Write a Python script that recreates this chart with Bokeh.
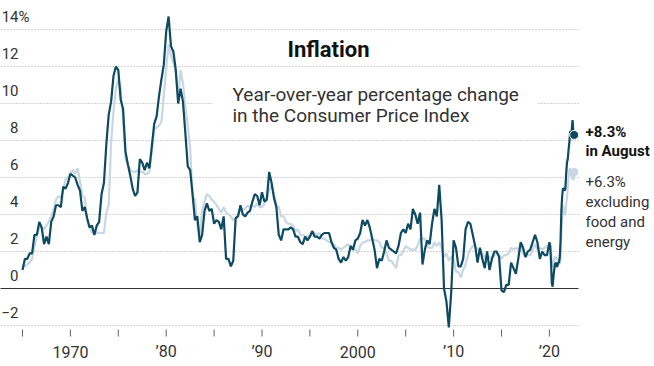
import pandas as pd
from bokeh.plotting import figure
from bokeh.models import Range1d
from bokeh.core.properties import value
from bokeh.embed import file_html
from bokeh.resources import INLINE

# Quarterly observations (Jan, Apr, Jul, Oct) 1965-2019, then monthly Jan 2020 - Aug 2022
quarter_starts = pd.date_range("1965-01-01", "2019-10-01", freq="QS")
month_starts = pd.date_range("2020-01-01", "2022-08-01", freq="MS")

cpi_all_q = [
    1.0, 1.6, 1.6, 1.9,   # 1965
    1.9, 2.9, 2.9, 3.6,   # 1966
    3.3, 2.4, 2.8, 2.4,   # 1967
    3.6, 3.9, 4.5, 4.5,   # 1968
    4.4, 5.5, 5.4, 5.7,   # 1969
    6.2, 6.1, 6.0, 5.6,   # 1970
    5.3, 4.2, 4.4, 3.8,   # 1971
    3.3, 3.4, 2.9, 3.4,   # 1972
    3.6, 5.1, 5.7, 7.8,   # 1973
    9.4, 10.1, 11.5, 12.0,  # 1974
    11.8, 10.2, 9.7, 7.4,   # 1975
    6.7, 6.1, 5.4, 5.0,   # 1976
    5.2, 7.0, 6.8, 6.4,   # 1977
    6.8, 6.5, 7.7, 8.9,   # 1978
    9.3, 10.4, 11.3, 12.1,  # 1979
    13.9, 14.7, 13.1, 12.8,  # 1980
    11.8, 10.0, 10.8, 10.1,  # 1981
    8.4, 6.6, 6.4, 5.1,   # 1982
    3.7, 3.9, 2.5, 2.9,   # 1983
    4.2, 4.6, 4.2, 4.3,   # 1984
    3.5, 3.7, 3.6, 3.2,   # 1985
    3.9, 1.6, 1.6, 1.2,   # 1986
    1.5, 3.8, 3.9, 4.5,   # 1987
    4.0, 3.9, 4.1, 4.2,   # 1988
    4.7, 5.1, 5.0, 4.5,   # 1989
    5.2, 4.7, 4.8, 6.3,   # 1990
    5.7, 4.9, 4.4, 2.9,   # 1991
    2.6, 3.2, 3.2, 3.2,   # 1992
    3.3, 3.2, 2.8, 2.8,   # 1993
    2.5, 2.4, 2.8, 2.6,   # 1994
    2.8, 3.1, 2.8, 2.8,   # 1995
    2.7, 2.9, 3.0, 3.0,   # 1996
    3.0, 2.5, 2.2, 2.1,   # 1997
    1.6, 1.4, 1.7, 1.5,   # 1998
    1.7, 2.3, 2.1, 2.6,   # 1999
    2.7, 3.0, 3.7, 3.4,   # 2000
    3.7, 3.3, 2.7, 2.1,   # 2001
    1.1, 1.6, 1.5, 2.0,   # 2002
    2.6, 2.2, 2.1, 2.0,   # 2003
    1.9, 2.3, 3.0, 3.2,   # 2004
    3.0, 3.5, 3.2, 4.3,   # 2005
    4.0, 3.5, 4.1, 1.3,   # 2006
    2.1, 2.6, 2.4, 3.5,   # 2007
    4.3, 3.9, 5.6, 3.7,   # 2008
    0.0, -0.7, -2.1, -0.2,  # 2009
    2.6, 2.2, 1.2, 1.2,   # 2010
    1.6, 3.2, 3.6, 3.5,   # 2011
    2.9, 2.3, 1.4, 2.2,   # 2012
    1.6, 1.1, 2.0, 1.0,   # 2013
    1.6, 2.0, 2.0, 1.7,   # 2014
    -0.1, -0.2, 0.2, 0.2,  # 2015
    1.4, 1.1, 0.8, 1.6,   # 2016
    2.5, 2.2, 1.7, 2.0,   # 2017
    2.1, 2.5, 2.9, 2.5,   # 2018
    1.6, 2.0, 1.8, 1.8,   # 2019
]
cpi_all_m = [
    2.5, 2.3, 1.5, 0.3, 0.1, 0.6, 1.0, 1.3, 1.4, 1.2, 1.2, 1.4,  # 2020
    1.4, 1.7, 2.6, 4.2, 5.0, 5.4, 5.4, 5.3, 5.4, 6.2, 6.8, 7.0,  # 2021
    7.5, 7.9, 8.5, 8.3, 8.6, 9.1, 8.5, 8.3,                      # 2022
]

cpi_core_q = [
    1.2, 1.2, 1.3, 1.4,   # 1965
    1.6, 2.3, 2.8, 3.3,   # 1966
    3.3, 3.2, 3.4, 3.6,   # 1967
    3.9, 4.3, 4.8, 5.0,   # 1968
    4.9, 5.3, 5.9, 6.0,   # 1969
    6.2, 6.4, 6.2, 6.5,   # 1970
    5.8, 5.0, 4.9, 3.7,   # 1971
    3.3, 3.0, 3.1, 3.0,   # 1972
    3.0, 3.0, 3.0, 4.1,   # 1973
    4.5, 7.9, 9.6, 10.8,  # 1974
    11.3, 10.9, 9.0, 7.0,  # 1975
    6.7, 6.4, 6.3, 6.3,   # 1976
    6.4, 6.3, 6.3, 6.2,   # 1977
    6.2, 6.3, 7.4, 8.6,   # 1978
    8.7, 8.8, 9.0, 10.4,  # 1979
    11.9, 13.2, 12.6, 12.2,  # 1980
    11.7, 10.2, 11.8, 11.1,  # 1981
    9.8, 8.8, 7.6, 5.0,   # 1982
    4.8, 3.4, 2.9, 4.2,   # 1983
    4.7, 5.1, 5.0, 4.8,   # 1984
    4.7, 4.5, 4.3, 4.1,   # 1985
    4.4, 4.1, 4.0, 3.9,   # 1986
    3.7, 3.8, 4.0, 4.3,   # 1987
    4.3, 4.3, 4.5, 4.4,   # 1988
    4.5, 4.4, 4.6, 4.4,   # 1989
    4.4, 4.6, 4.9, 5.3,   # 1990
    5.6, 5.1, 4.5, 4.4,   # 1991
    3.9, 3.9, 3.6, 3.5,   # 1992
    3.5, 3.4, 3.1, 3.2,   # 1993
    2.9, 2.9, 2.8, 2.8,   # 1994
    2.9, 3.1, 3.0, 2.9,   # 1995
    3.0, 2.7, 2.7, 2.6,   # 1996
    2.5, 2.5, 2.4, 2.2,   # 1997
    2.2, 2.1, 2.2, 2.3,   # 1998
    2.4, 2.2, 2.1, 2.1,   # 1999
    1.9, 2.3, 2.5, 2.5,   # 2000
    2.6, 2.6, 2.7, 2.6,   # 2001
    2.6, 2.5, 2.2, 2.2,   # 2002
    1.9, 1.5, 1.5, 1.3,   # 2003
    1.1, 1.8, 1.8, 2.0,   # 2004
    2.3, 2.2, 2.1, 2.1,   # 2005
    2.1, 2.3, 2.7, 2.7,   # 2006
    2.7, 2.3, 2.2, 2.2,   # 2007
    2.5, 2.3, 2.5, 2.2,   # 2008
    1.7, 1.9, 1.5, 1.7,   # 2009
    1.6, 0.9, 0.9, 0.6,   # 2010
    1.0, 1.3, 1.8, 2.1,   # 2011
    2.3, 2.3, 2.1, 2.0,   # 2012
    1.9, 1.7, 1.7, 1.7,   # 2013
    1.6, 1.8, 1.9, 1.8,   # 2014
    1.6, 1.8, 1.8, 1.9,   # 2015
    2.2, 2.1, 2.2, 2.1,   # 2016
    2.3, 1.9, 1.7, 1.8,   # 2017
    1.8, 2.1, 2.4, 2.1,   # 2018
    2.2, 2.1, 2.2, 2.3,   # 2019
]
cpi_core_m = [
    2.3, 2.4, 2.1, 1.4, 1.2, 1.2, 1.6, 1.7, 1.7, 1.6, 1.6, 1.6,  # 2020
    1.4, 1.3, 1.6, 3.0, 3.8, 4.5, 4.3, 4.0, 4.0, 4.6, 4.9, 5.5,  # 2021
    6.0, 6.4, 6.5, 6.2, 6.0, 5.9, 5.9, 6.3,                      # 2022
]

y_ticks = [14, 12, 10, 8, 6, 4, 2, 0, -2]
y_tick_labels = ["14", "12", "10", "8", "6", "4", "2", "0", "\u22122"]
x_ticks = [1965, 1970, 1975, 1980, 1985, 1990, 1995, 2000, 2005, 2010, 2015, 2020]
x_label_years = [1970, 1980, 1990, 2000, 2010, 2020]
x_labels = ["1970", "\u201980", "\u201990", "2000", "\u201910", "\u201920"]

DARK = "#0e4a62"
LIGHT = "#c8d7e2"
FONT = value("Roboto")

dates = list(quarter_starts) + list(month_starts)
xs = [d.year + (d.month - 1) / 12 for d in dates]
ys_all = cpi_all_q + cpi_all_m
ys_core = cpi_core_q + cpi_core_m

# pixel geometry of the reference -> data
PX_PER_YEAR = 9.58
X1965 = 22.0
PX_PER_PCT = 18.5
Y0 = 288.0
TXT = 6  # baseline correction for rendered text


def dx(px):
    return 1965 + (px - X1965) / PX_PER_YEAR


def dy(py):
    return (Y0 - py) / PX_PER_PCT


def ty(py):
    return dy(py - TXT)


W, H = 654, 366
p = figure(width=W, height=H, output_backend="svg", toolbar_location=None,
           x_axis_type=None, y_axis_type=None,
           x_range=Range1d(dx(0), dx(W)), y_range=Range1d(dy(H), dy(0)),
           min_border=0, outline_line_color=None)
p.grid.visible = False
p.background_fill_color = "white"

# gridlines
grid_vals = [v for v in y_ticks if v != 0]
p.segment(x0=[dx(-20)] * len(grid_vals), x1=[dx(580)] * len(grid_vals),
          y0=grid_vals, y1=grid_vals, line_color="#a8a8a8", line_width=1,
          line_dash="1 2")

# white box behind subtitle
p.quad(left=[dx(212)], right=[dx(537)], bottom=[dy(128)], top=[dy(80)],
       fill_color="white", line_color=None)

# zero line
p.segment(x0=[dx(-20)], x1=[dx(578)], y0=[0], y1=[0], line_color="#333333", line_width=1)

# y labels
p.text(x=[dx(18)] * len(y_ticks), y=y_ticks, text=y_tick_labels, y_offset=-7 - TXT,
       text_align="right", text_baseline="alphabetic", text_font=FONT,
       text_font_size="15px", text_color="#333333")
p.text(x=[dx(18)], y=[14], text=["%"], y_offset=-7 - TXT, text_align="left",
       text_baseline="alphabetic", text_font=FONT, text_font_size="15px",
       text_color="#333333")

# x ticks and labels
p.segment(x0=x_ticks, x1=x_ticks, y0=[dy(329)] * len(x_ticks), y1=[dy(336)] * len(x_ticks),
          line_color="#666666", line_width=1)
p.text(x=x_label_years, y=[ty(357)] * len(x_label_years), text=x_labels,
       text_align="center", text_baseline="alphabetic", text_font=FONT,
       text_font_size="16px", text_color="#333333")

# series
p.line(xs, ys_core, line_color=LIGHT, line_width=2.2)
p.line(xs, ys_all, line_color=DARK, line_width=2.2)
p.scatter([xs[-1]], [ys_core[-1]], size=8, fill_color=LIGHT, line_color=None)
p.scatter([xs[-1]], [ys_all[-1]], size=9, fill_color=DARK, line_color="white", line_width=1)

# titles
p.text(x=[dx(287)], y=[ty(55)], text=["Inflation"], text_align="left",
       text_baseline="alphabetic", text_font=FONT, text_font_style="bold",
       text_font_size="22px", text_color="#121212")
p.text(x=[dx(232)] * 2, y=[ty(100), ty(121)],
       text=["Year-over-year percentage change", "in the Consumer Price Index"],
       text_align="left", text_baseline="alphabetic", text_font=FONT,
       text_font_size="19px", text_color="#333333")

# end annotations
p.text(x=[dx(585)] * 2, y=[ty(137), ty(156)], text=["+8.3%", "in August"],
       text_align="left", text_baseline="alphabetic", text_font=FONT,
       text_font_style="bold", text_font_size="15px", text_color="#121212")
p.text(x=[dx(585)] * 4, y=[ty(187), ty(207), ty(227), ty(247)],
       text=["+6.3%", "excluding", "food and", "energy"],
       text_align="left", text_baseline="alphabetic", text_font=FONT,
       text_font_size="15px", text_color="#333333")

open("out.html", "w").write(file_html(p, INLINE))
